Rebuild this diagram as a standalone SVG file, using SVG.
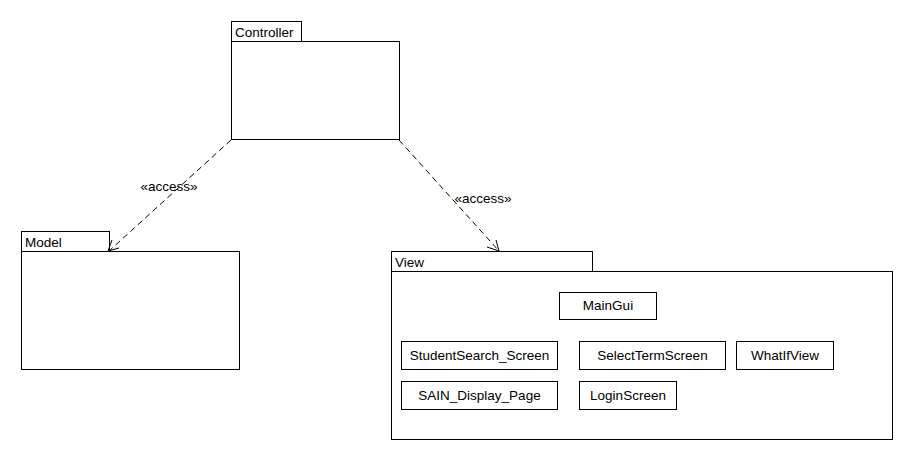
<svg xmlns="http://www.w3.org/2000/svg" width="920" height="460" viewBox="0 0 920 460">
<defs>
<style>
.b{fill:#fff;stroke:#000;stroke-width:1}
text{font-family:"Liberation Sans",Arial,sans-serif;font-size:13.5px;fill:#000}
.c{text-anchor:middle}
.d{fill:none;stroke:#000;stroke-width:1;stroke-dasharray:6,4}
.h{fill:none;stroke:#000;stroke-width:1}
</style>
</defs>
<rect width="920" height="460" fill="#fff"/>
<g id="controller">
<rect class="b" x="231.5" y="21.5" width="70" height="20"/>
<rect class="b" x="231.5" y="41.5" width="168" height="98"/>
<text x="235" y="37">Controller</text>
</g>
<g id="model">
<rect class="b" x="21.5" y="231.5" width="88" height="20"/>
<rect class="b" x="21.5" y="251.5" width="218" height="118"/>
<text x="25" y="247">Model</text>
</g>
<g id="view">
<rect class="b" x="391.5" y="251.5" width="201" height="20"/>
<rect class="b" x="391.5" y="271.5" width="501" height="168"/>
<text x="395" y="267">View</text>
</g>
<g id="maingui">
<rect class="b" x="559.5" y="292.5" width="97" height="27"/>
<text class="c" x="608" y="310">MainGui</text>
</g>
<g id="studentsearch">
<rect class="b" x="401.5" y="341.5" width="156" height="28"/>
<text class="c" x="479.5" y="360">StudentSearch_Screen</text>
</g>
<g id="selectterm">
<rect class="b" x="579.5" y="341.5" width="146" height="28"/>
<text class="c" x="652.5" y="360">SelectTermScreen</text>
</g>
<g id="whatif">
<rect class="b" x="736.5" y="341.5" width="97" height="28"/>
<text class="c" x="785" y="360">WhatIfView</text>
</g>
<g id="sain">
<rect class="b" x="401.5" y="381.5" width="156" height="28"/>
<text class="c" x="479.5" y="400">SAIN_Display_Page</text>
</g>
<g id="login">
<rect class="b" x="579.5" y="381.5" width="97" height="28"/>
<text class="c" x="628" y="400">LoginScreen</text>
</g>
<g id="connectors">
<line class="d" x1="231" y1="140" x2="109" y2="251"/>
<polyline class="h" points="112,240 108,251 119,248"/>
<text class="c" x="169" y="191">«access»</text>
<line class="d" x1="399" y1="140" x2="499" y2="251"/>
<polyline class="h" points="487,247 499,251 496,240"/>
<text class="c" x="483" y="203">«access»</text>
</g>
</svg>
